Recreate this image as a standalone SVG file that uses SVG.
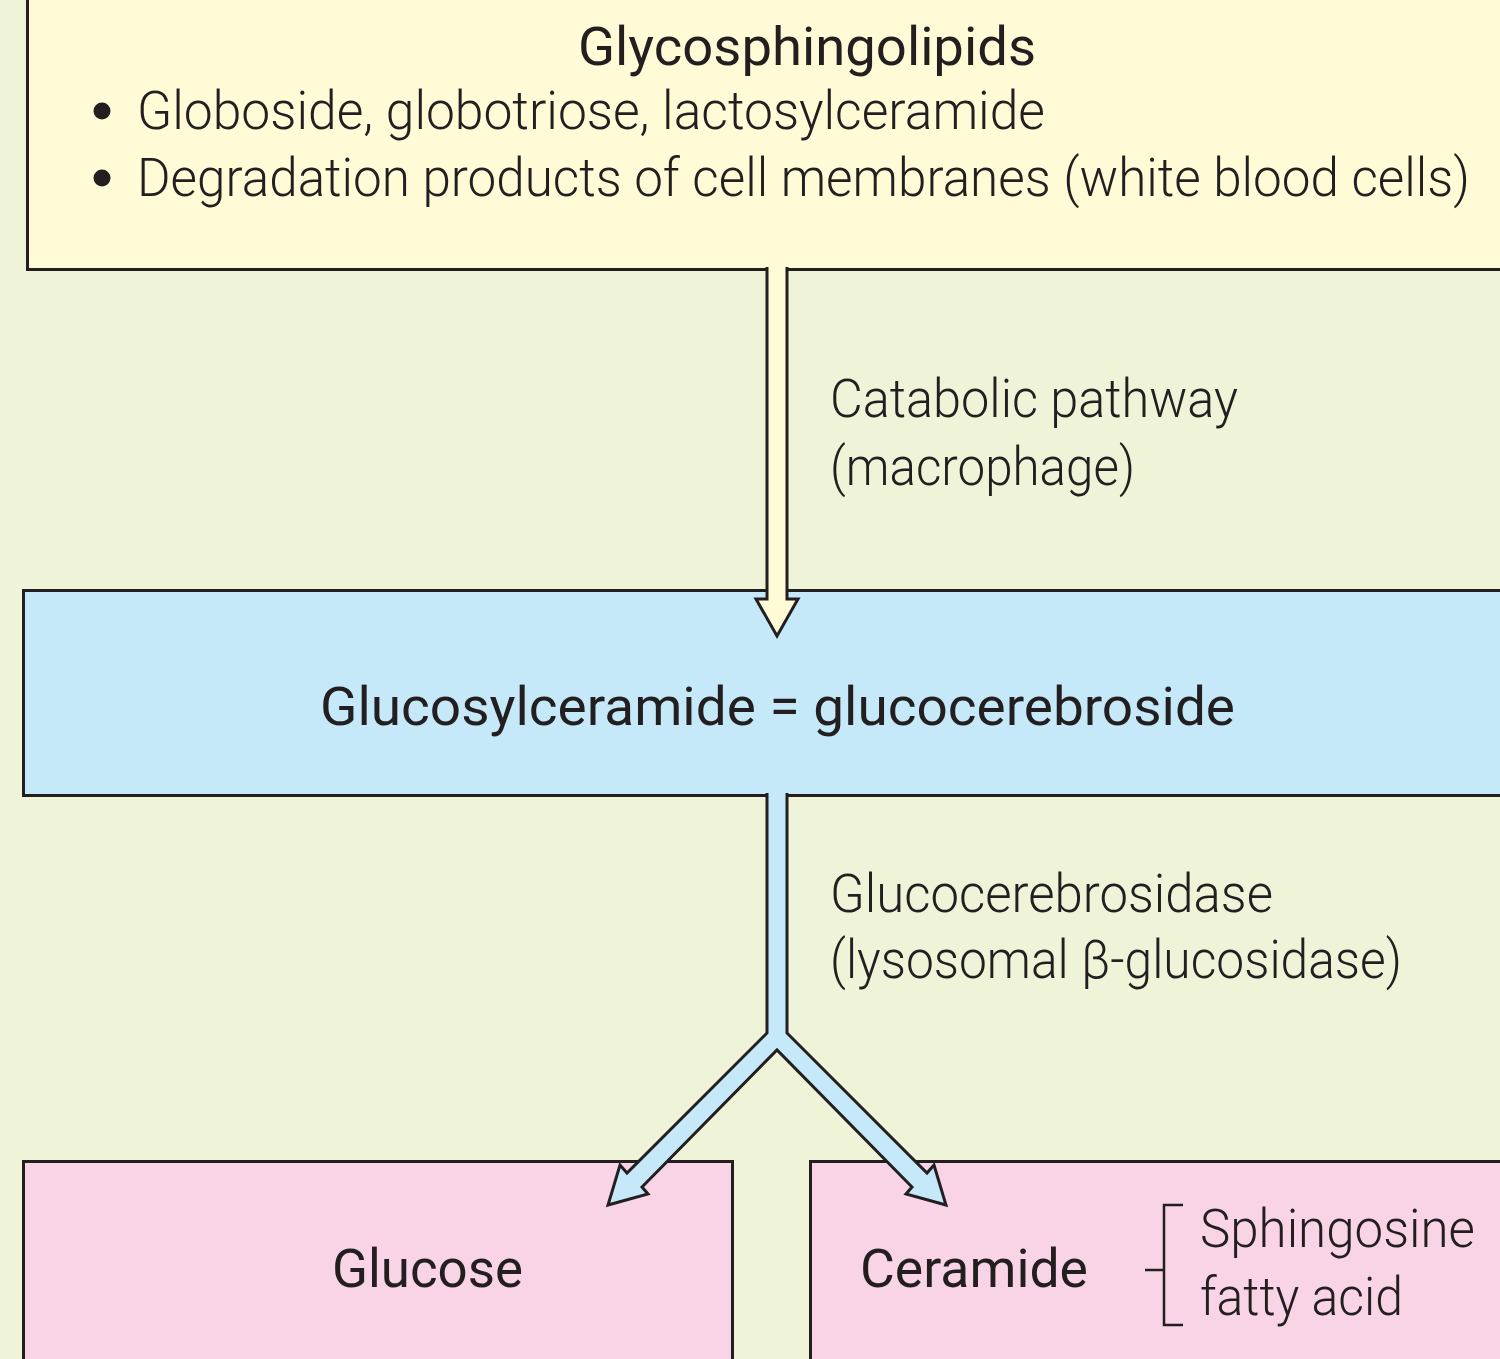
<svg xmlns="http://www.w3.org/2000/svg" width="1500" height="1359" viewBox="0 0 1500 1359">
<style>
.box{stroke:#231F20;stroke-width:3}
.arrow{stroke:#231F20;stroke-width:3;stroke-linejoin:miter}
text{font-family:Roboto,"Liberation Sans",sans-serif;fill:#231F20;font-size:54px}
.lt{font-weight:300}
.md{font-weight:400}
</style>
<rect x="0" y="0" width="1500" height="1359" fill="#EFF3D7"/>
<g id="node-glycosphingolipids">
<rect class="box" x="27.5" y="-5" width="1480" height="274.5" fill="#FEFBD6"/>
<text class="md" x="807" y="65" text-anchor="middle" textLength="458" lengthAdjust="spacingAndGlyphs">Glycosphingolipids</text>
<circle cx="102" cy="111" r="8.5" fill="#231F20"/>
<text class="lt" x="137" y="129" textLength="908" lengthAdjust="spacingAndGlyphs">Globoside, globotriose, lactosylceramide</text>
<circle cx="102" cy="178" r="8.5" fill="#231F20"/>
<text class="lt" x="137" y="196" textLength="1333" lengthAdjust="spacingAndGlyphs">Degradation products of cell membranes (white blood cells)</text>
</g>
<g id="node-glucosylceramide">
<rect class="box" x="23.5" y="590.5" width="1490" height="205" fill="#C6E9F9"/>
<text class="md" x="320" y="725" textLength="915" lengthAdjust="spacingAndGlyphs">Glucosylceramide = glucocerebroside</text>
</g>
<g id="node-glucose">
<rect class="box" x="23.5" y="1161.5" width="709" height="210" fill="#F9D4E6"/>
<text class="md" x="332" y="1287" textLength="191" lengthAdjust="spacingAndGlyphs">Glucose</text>
</g>
<g id="node-ceramide">
<rect class="box" x="810.5" y="1161.5" width="700" height="210" fill="#F9D4E6"/>
<text class="md" x="860" y="1287" textLength="228" lengthAdjust="spacingAndGlyphs">Ceramide</text>
<path d="M1183,1205 H1164 V1325 H1183 M1145,1270 H1164" fill="none" stroke="#231F20" stroke-width="2.5"/>
<text class="lt" x="1200" y="1247" textLength="275" lengthAdjust="spacingAndGlyphs">Sphingosine</text>
<text class="lt" x="1200" y="1315" textLength="203" lengthAdjust="spacingAndGlyphs">fatty acid</text>
</g>
<g id="connectors">
<path class="arrow" fill="#FEFBD6" d="M767,267 V599 H756 L777,636 L798,599 H787 V267"/>
<text class="lt" x="830" y="417" textLength="408" lengthAdjust="spacingAndGlyphs">Catabolic pathway</text>
<text class="lt" x="830" y="485" textLength="305" lengthAdjust="spacingAndGlyphs">(macrophage)</text>
<path class="arrow" fill="#C6E9F9" d="M767,793 V1033 L627,1173 L620,1165 L608,1205 L648,1194 L642,1187 L777,1050 L912,1187 L906,1194 L946,1205 L934,1165 L927,1173 L787,1033 V793"/>
<text class="lt" x="830" y="912" textLength="443" lengthAdjust="spacingAndGlyphs">Glucocerebrosidase</text>
<text class="lt" x="830" y="978" textLength="572" lengthAdjust="spacingAndGlyphs">(lysosomal β-glucosidase)</text>
</g>
</svg>
